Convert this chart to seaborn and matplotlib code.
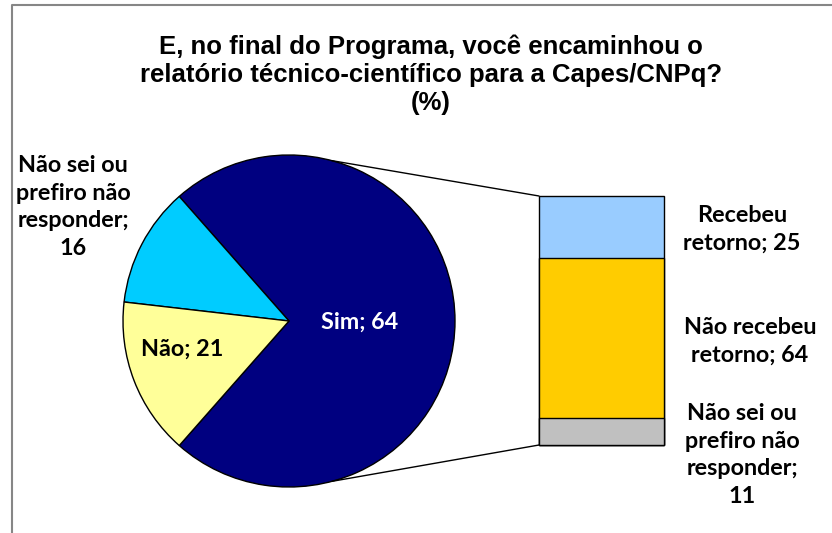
import numpy as np
import matplotlib.pyplot as plt
import seaborn as sns

title = "E, no final do Programa, você encaminhou o\nrelatório técnico-científico para a Capes/CNPq?\n(%)"

# pie: Sim is broken down in the bar on the right
pie_labels = ["Sim", "Não sei ou\nprefiro não\nresponder", "Não"]
pie_values = [64, 16, 21]
pie_colors = ["#000080", "#00CCFF", "#FFFF99"]

# bar segments, bottom to top
bar_labels = ["Não sei ou\nprefiro não\nresponder", "Não recebeu\nretorno", "Recebeu\nretorno"]
bar_values = [11, 64, 25]
bar_colors = ["#C0C0C0", "#FFCC00", "#99CCFF"]

sns.set_theme(style="white")
plt.rcParams["font.family"] = ["Lato", "DejaVu Sans"]

W, H = 832, 533
fig = plt.figure(figsize=(W / 100, H / 100), dpi=100)
ax = fig.add_axes([0, 0, 1, 1])

# pie (the Sim slice holds the whole bar breakdown)
cx, cy, r = 289, H - 321, 166
sizes = [sum(bar_values), pie_values[1], pie_values[2]]
sim_angle = 360 * sizes[0] / sum(sizes)
ax.pie(sizes, colors=pie_colors, startangle=-sim_angle / 2, counterclock=True,
       center=(cx, cy), radius=r, frame=True,
       wedgeprops=dict(edgecolor="black", linewidth=1))
ax.set_xlim(0, W)
ax.set_ylim(0, H)
ax.set_aspect("equal")
ax.axis("off")

lbl = dict(fontsize=16.8, fontweight="bold", ha="center", va="center", linespacing=1.4)
ax.text(360, H - 322, f"{pie_labels[0]}; {pie_values[0]}", color="white", **lbl)
ax.text(182, H - 349, f"{pie_labels[2]}; {pie_values[2]}", color="black", **lbl)
ax.text(73, H - 207, f"{pie_labels[1]};\n{pie_values[1]}", color="black", **lbl)

# bar of the Sim slice
bx0, bx1, by0, by1 = 539, 664, 445, 196
ax_bar = fig.add_axes([bx0 / W, (H - by0) / H, (bx1 - bx0) / W, (by0 - by1) / H])
cum = np.cumsum(bar_values)
for total, c in zip(cum[::-1], bar_colors[::-1]):
    sns.barplot(x=["Sim"], y=[total], color=c, saturation=1, width=1,
                edgecolor="black", linewidth=1, ax=ax_bar)
for p in ax_bar.patches:
    p.set_clip_on(False)
ax_bar.set_xlim(-0.5, 0.5)
ax_bar.set_ylim(0, cum[-1])
ax_bar.axis("off")

bar_label_pos = [(742, H - 455), (750, H - 341), (742, H - 229)]
for (tx, ty), name, v in zip(bar_label_pos, bar_labels, bar_values):
    sep = ";\n" if name.count("\n") > 1 else "; "
    ax.text(tx, ty, f"{name}{sep}{v}", color="black", **lbl)

# connector lines from the pie to the bar
ang = np.deg2rad(75)
ax.plot([cx + r * np.cos(ang), bx0], [cy + r * np.sin(ang), H - by1], color="black", lw=1)
ax.plot([cx + r * np.cos(ang), bx0], [cy - r * np.sin(ang), H - by0], color="black", lw=1)

# chart area border (partly cropped)
ax.plot([12, 12, W + 5], [-5, H - 5, H - 5], color="#868686", lw=1.5, clip_on=False)

fig.text(431 / W, 1 - 75 / H, title, ha="center", va="center", fontsize=18.5, color="black",
         fontweight="bold", family=["Liberation Sans", "DejaVu Sans"], linespacing=1.22)

fig.savefig("out.png", dpi=100)
